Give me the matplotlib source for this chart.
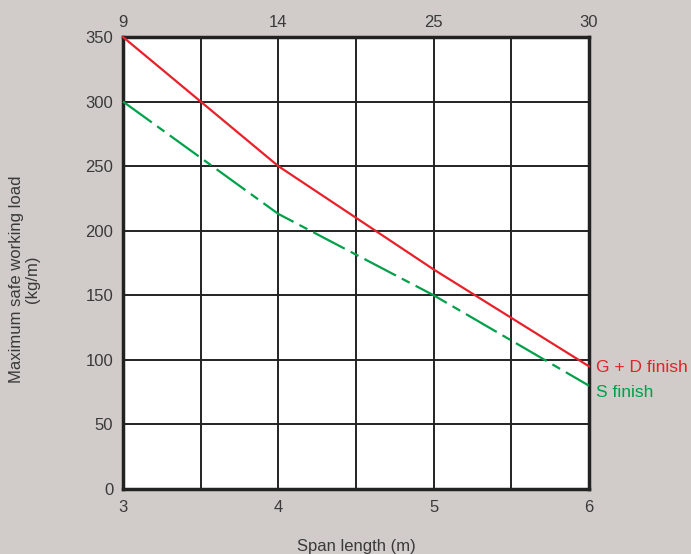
import matplotlib.pyplot as plt

span = [3, 4, 5, 6]
top_labels = ["9", "14", "25", "30"]
gd_load = [350, 250, 170, 95]
s_load = [300, 213, 150, 80]

bg = "#d1ccc9"
txt = "#3a3a3a"
red = "#e8202a"
green = "#00a04a"

plt.rcParams['font.family'] = ['Liberation Sans', 'DejaVu Sans']
fig = plt.figure(figsize=(6.91, 5.54), dpi=100, facecolor=bg)
ax = fig.add_axes([123/691, 1-489/554, (589-123)/691, (489-37)/554])
ax.set_facecolor("white")
ax.set_xlim(3, 6)
ax.set_ylim(0, 350)
ax.set_xticks([3, 3.5, 4, 4.5, 5, 5.5, 6])
ax.set_xticklabels(["3", "", "4", "", "5", "", "6"])
ax.set_yticks(range(0, 351, 50))
ax.grid(True, color="#222222", linewidth=1.4)
ax.tick_params(length=0, labelsize=12, labelcolor=txt)
ax.tick_params(axis='y', pad=7)
ax.tick_params(axis='x', pad=8)
for s in ax.spines.values():
    s.set_linewidth(2.5)
    s.set_color("#222222")

ax.plot(span, gd_load, color=red, linewidth=1.6, clip_on=False, zorder=3)
ax.plot(span, s_load, color=green, linewidth=1.6, linestyle=(0, (16, 3, 4, 3)), clip_on=False, zorder=3)

sec = ax.secondary_xaxis('top')
sec.set_xticks(span)
sec.set_xticklabels(top_labels)
sec.tick_params(length=0, labelsize=12, labelcolor=txt, pad=5)
sec.spines['top'].set_visible(False)

ax.set_xlabel("Span length (m)", fontsize=12, color=txt, labelpad=17)
ax.set_ylabel("Maximum safe working load\n(kg/m)", fontsize=12, color=txt, linespacing=1.1)
ax.yaxis.set_label_coords(-0.178, 0.465)

ax.annotate("G + D finish", (6, gd_load[-1]), xytext=(5, -1), textcoords="offset points",
            color=red, fontsize=12.5, va="center", ha="left", annotation_clip=False)
ax.annotate("S finish", (6, s_load[-1]), xytext=(5, -5), textcoords="offset points",
            color=green, fontsize=12.5, va="center", ha="left", annotation_clip=False)

fig.savefig("out.png", dpi=100, facecolor=bg)
